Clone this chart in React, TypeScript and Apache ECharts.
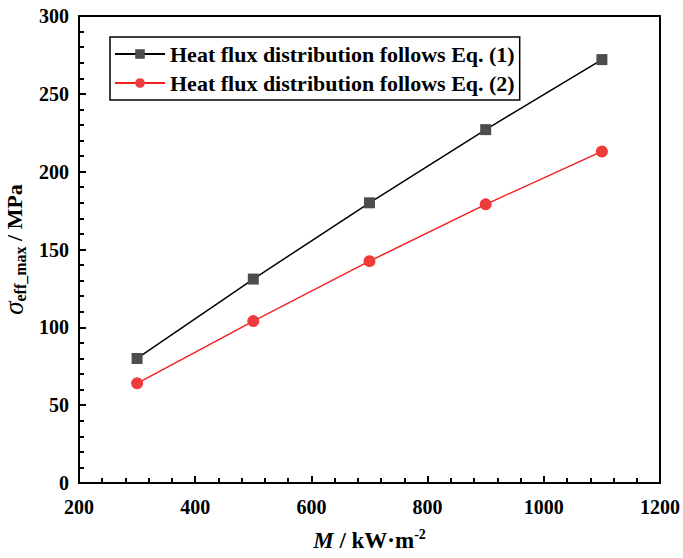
import React, { useEffect, useRef } from "react";
import * as echarts from "echarts";

const xValues = [300, 500, 700, 900, 1100];
const eq1Values = [80, 131, 180, 227, 272];
const eq2Values = [64, 104, 142.5, 179, 213];
const seriesNames = [
  "Heat flux distribution follows Eq. (1)",
  "Heat flux distribution follows Eq. (2)",
];

const FONT = "Liberation Serif";

export default function App() {
  const ref = useRef<HTMLDivElement>(null);
  useEffect(() => {
    document.body.style.margin = "0";
    document.body.style.overflow = "hidden";
    const chart = echarts.init(ref.current!, null, { renderer: "svg" });
    const tick = { show: true, inside: true, length: 7, lineStyle: { color: "#000", width: 2 } };
    const minor = { show: true, splitNumber: 5, length: 5, lineStyle: { color: "#000", width: 2 } };
    const line = { show: true, onZero: false, lineStyle: { color: "#000", width: 2 } };
    const label = {
      show: true,
      color: "#000",
      fontFamily: FONT,
      fontWeight: "bold",
      fontSize: 20,
      formatter: (v: number) => String(v),
    };
    chart.setOption({
      animation: false,
      backgroundColor: "#fff",
      grid: { left: 79, right: 23, top: 16, bottom: 75, containLabel: false, outerBoundsMode: "none" },
      legend: {
        show: true,
        orient: "vertical",
        left: 110,
        top: 37,
        data: seriesNames,
        borderColor: "#000",
        borderWidth: 1.5,
        borderRadius: 0,
        padding: [6, 5, 6, 4],
        itemGap: 7,
        itemWidth: 50,
        itemHeight: 12,
        textStyle: { color: "#000", fontFamily: FONT, fontWeight: "bold", fontSize: 22 },
      },
      xAxis: [
        {
          type: "value",
          position: "bottom",
          min: 200,
          max: 1200,
          interval: 200,
          axisLine: line,
          axisTick: tick,
          minorTick: minor,
          splitLine: { show: false },
          axisLabel: { ...label, margin: 14 },
          name: "{i|M}{n| / kW·m}{sup|-2}",
          nameLocation: "middle",
          nameGap: 44,
          nameTextStyle: {
            color: "#000",
            rich: {
              i: { fontFamily: FONT, fontStyle: "italic", fontWeight: "bold", fontSize: 23, color: "#000" },
              n: { fontFamily: FONT, fontWeight: "bold", fontSize: 23, color: "#000" },
              sup: { fontFamily: FONT, fontWeight: "bold", fontSize: 14, color: "#000", padding: [0, 0, 12, 0] },
            },
          },
        },
        {
          type: "value",
          position: "top",
          min: 200,
          max: 1200,
          interval: 200,
          axisLine: line,
          axisTick: { show: false },
          axisLabel: { show: false },
          splitLine: { show: false },
        },
      ],
      yAxis: [
        {
          type: "value",
          position: "left",
          min: 0,
          max: 300,
          interval: 50,
          axisLine: line,
          axisTick: tick,
          minorTick: minor,
          splitLine: { show: false },
          axisLabel: { ...label, margin: 10 },
          name: "{s|σ}{sub|eff_max}{n| / MPa}",
          nameLocation: "middle",
          nameGap: 43,
          nameRotate: 90,
          nameTextStyle: {
            color: "#000",
            rich: {
              s: { fontFamily: FONT, fontStyle: "italic", fontSize: 27, color: "#000" },
              sub: { fontFamily: FONT, fontWeight: "bold", fontSize: 16, color: "#000", padding: [12, 0, 0, 0] },
              n: { fontFamily: FONT, fontWeight: "bold", fontSize: 22, color: "#000" },
            },
          },
        },
        {
          type: "value",
          position: "right",
          min: 0,
          max: 300,
          interval: 50,
          axisLine: line,
          axisTick: { show: false },
          axisLabel: { show: false },
          splitLine: { show: false },
        },
      ],
      series: [
        {
          name: seriesNames[0],
          type: "line",
          data: xValues.map((x, i) => [x, eq1Values[i]]),
          symbol: "rect",
          symbolSize: 11,
          lineStyle: { color: "#000", width: 1.5 },
          itemStyle: { color: "#4d4d4d" },
        },
        {
          name: seriesNames[1],
          type: "line",
          data: xValues.map((x, i) => [x, eq2Values[i]]),
          symbol: "circle",
          symbolSize: 12,
          lineStyle: { color: "#f02020", width: 1.5 },
          itemStyle: { color: "#ee3b3b" },
        },
      ],
    });
    return () => chart.dispose();
  }, []);
  return <div ref={ref} style={{ position: "absolute", left: 0, top: 0, width: 683, height: 558 }} />;
}
